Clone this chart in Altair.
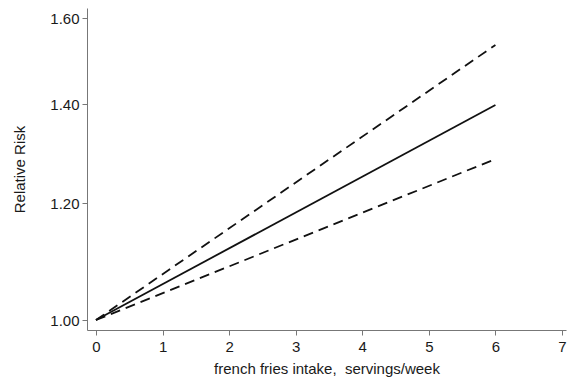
import altair as alt
import pandas as pd

# Data
servings = [0, 6]
rr_est = [1.00, 1.398]
rr_lower = [1.00, 1.285]
rr_upper = [1.00, 1.535]
y_ticks = [1.00, 1.20, 1.40, 1.60]
x_ticks = [0, 1, 2, 3, 4, 5, 6, 7]

rows = []
for name, vals in [("estimate", rr_est), ("lower", rr_lower), ("upper", rr_upper)]:
    for x, v in zip(servings, vals):
        rows.append({"x": x, "rr": v, "series": name})
df = pd.DataFrame(rows)

FONT = "Liberation Sans"

x_enc = alt.X("x:Q", scale=alt.Scale(domain=[-0.135, 7.06], nice=False, zero=False),
              axis=alt.Axis(values=x_ticks, format="d", title="french fries intake,\u00a0 servings/week",
                            grid=False, tickSize=5, labelPadding=4, titlePadding=7,
                            domainColor="#777", tickColor="#777", labelFontSize=15,
                            titleFontSize=15, labelFont=FONT, titleFont=FONT,
                            labelColor="#1a1a1a", titleColor="#1a1a1a", titleFontWeight="normal",
                            labelFlush=False))
y_enc = alt.Y("rr:Q", scale=alt.Scale(type="log", domain=[0.9846, 1.626], nice=False, zero=False),
              axis=alt.Axis(values=y_ticks, format=".2f", title="Relative Risk",
                            grid=False, tickSize=5, labelPadding=3, titlePadding=22,
                            domainColor="#777", tickColor="#777", labelFontSize=15,
                            titleFontSize=15, labelFont=FONT, titleFont=FONT,
                            labelColor="#1a1a1a", titleColor="#1a1a1a", titleFontWeight="normal",
                            labelFlush=False))

solid = alt.Chart(df).transform_filter(alt.datum.series == "estimate").mark_line(
    color="#111", strokeWidth=1.8, clip=True
).encode(x=x_enc, y=y_enc, detail="series:N")

dashed = alt.Chart(df).transform_filter(alt.datum.series != "estimate").mark_line(
    color="#111", strokeWidth=1.8, strokeDash=[10, 6], clip=True
).encode(x=x_enc, y=y_enc, detail="series:N")

chart = alt.layer(solid, dashed).properties(
    width=479, height=322,
    autosize=alt.AutoSizeParams(type="none"),
    padding={"left": 79, "top": 0, "right": 1, "bottom": 47},
    background="white",
).configure_view(stroke=None)

chart.save("out.html", embed_options={"renderer": "svg", "actions": False})
